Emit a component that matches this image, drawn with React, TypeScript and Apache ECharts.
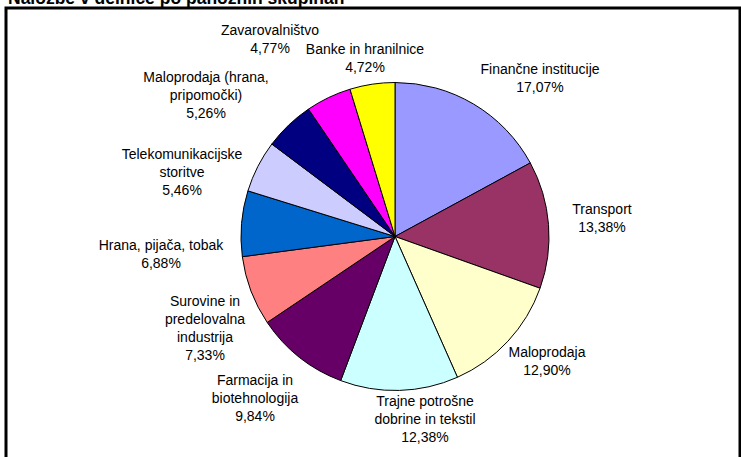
import React, { useEffect, useRef } from "react";
import * as echarts from "echarts";

const categories = [
  "Finančne institucije",
  "Transport",
  "Maloprodaja",
  "Trajne potrošne\ndobrine in tekstil",
  "Farmacija in\nbiotehnologija",
  "Surovine in\npredelovalna\nindustrija",
  "Hrana, pijača, tobak",
  "Telekomunikacijske\nstoritve",
  "Maloprodaja (hrana,\npripomočki)",
  "Zavarovalništvo",
  "Banke in hranilnice",
];
const values = [17.07, 13.38, 12.9, 12.38, 9.84, 7.33, 6.88, 5.46, 5.26, 4.77, 4.72];
const colors = [
  "#9999FF", "#993366", "#FFFFCC", "#CCFFFF", "#660066", "#FF8080",
  "#0066CC", "#CCCCFF", "#000080", "#FF00FF", "#FFFF00",
];
const title = "Naložbe v delnice po panožnih skupinah";

// label centre positions (layout only)
const labelPos: [number, number][] = [
  [540, 78], [602, 218], [547, 361], [425, 419], [255, 398], [205, 328],
  [161, 254], [182, 172], [206, 95], [270, 39], [365, 58],
];

const FONT = "'Liberation Sans', Arial, sans-serif";

export default function App() {
  const ref = useRef<HTMLDivElement>(null);
  useEffect(() => {
    if (!ref.current) return;
    const chart = echarts.init(ref.current, null, { renderer: "svg" });
    chart.setOption({
      animation: false,
      backgroundColor: "#ffffff",
      graphic: [
        {
          type: "text",
          left: 8,
          top: -11,
          style: {
            text: title,
            font: `bold 17.5px ${FONT}`,
            fill: "#000",
          },
          z: 10,
        },
        {
          type: "rect",
          shape: { x: 6, y: 8, width: 734, height: 470 },
          style: { fill: "none", stroke: "#000", lineWidth: 3 },
          z: 10,
        },
      ],
      series: [
        {
          type: "pie",
          center: [395, 236.5],
          radius: [0, 154],
          startAngle: 90,
          clockwise: true,
          avoidLabelOverlap: false,
          data: categories.map((n, i) => ({
            name: n,
            value: values[i],
            itemStyle: { color: colors[i] },
          })),
          itemStyle: { borderColor: "#000", borderWidth: 1 },
          emphasis: { disabled: true },
          label: {
            show: true,
            position: "outside",
            formatter: (p: any) =>
              `${p.name}\n${Number(p.value).toFixed(2).replace(".", ",")}%`,
            fontFamily: FONT,
            fontSize: 14,
            lineHeight: 18,
            color: "#000",
            align: "center",
          },
          labelLine: { show: false },
          labelLayout: (p: any) => {
            const pos = labelPos[p.dataIndex];
            return {
              x: pos[0],
              y: pos[1],
              align: "center",
              verticalAlign: "middle",
            };
          },
        },
      ],
    });
    return () => chart.dispose();
  }, []);
  return (
    <div
      ref={ref}
      style={{ position: "fixed", left: 0, top: 0, width: 741, height: 457 }}
    />
  );
}
